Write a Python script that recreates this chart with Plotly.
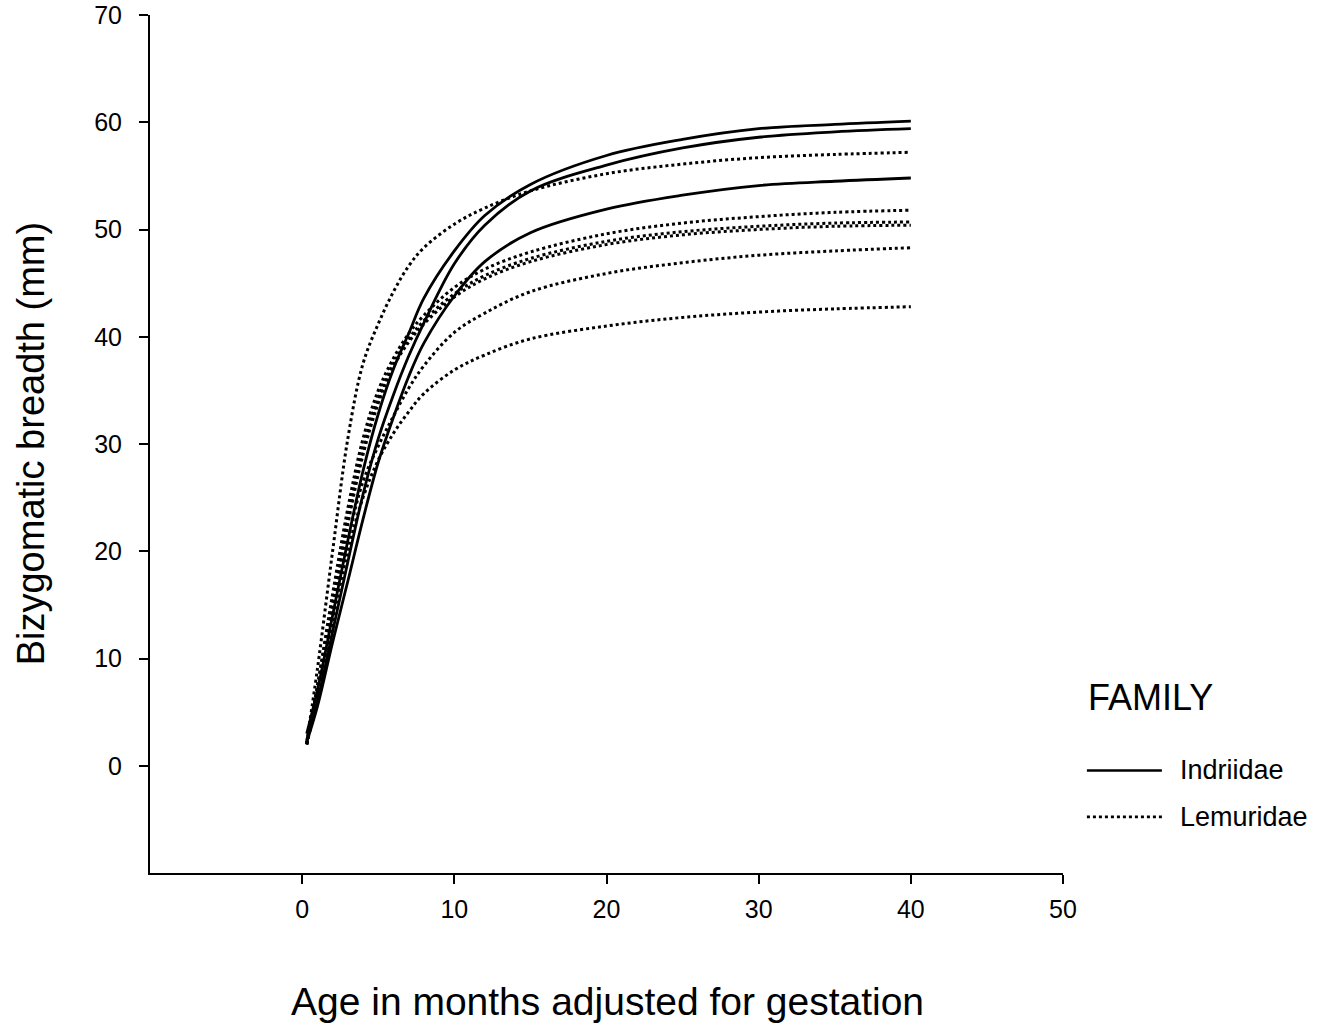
import plotly.graph_objects as go

# Age (months adjusted for gestation) sample points for each fitted curve
ages = [0.3, 1, 2, 3, 4, 5, 6, 7, 8, 10, 12, 15, 20, 25, 30, 35, 40]

# Indriidae (solid)
ind_1 = [3.0, 7.0, 14.0, 21.0, 27.5, 32.8, 37.0, 40.3, 43.6, 48.0, 51.3, 54.2, 56.9, 58.4, 59.4, 59.8, 60.1]
ind_2 = [2.4, 6.0, 12.5, 19.0, 25.3, 30.5, 34.6, 38.2, 41.3, 46.8, 50.4, 53.6, 56.0, 57.6, 58.6, 59.1, 59.4]
ind_3 = [2.2, 5.5, 11.5, 17.2, 23.0, 28.3, 32.5, 36.3, 39.4, 43.8, 47.0, 49.7, 51.9, 53.2, 54.1, 54.5, 54.8]

# Lemuridae (dotted)
lem_1 = [2.2, 9.0, 20.0, 30.5, 37.5, 41.2, 44.2, 46.6, 48.3, 50.5, 52.0, 53.6, 55.2, 56.1, 56.7, 57.0, 57.2]
lem_2 = [2.0, 7.5, 16.0, 24.0, 30.5, 35.0, 38.0, 40.3, 42.0, 44.6, 46.3, 47.9, 49.6, 50.6, 51.2, 51.6, 51.8]
lem_3 = [2.0, 7.0, 15.0, 23.0, 29.5, 34.3, 37.5, 39.8, 41.5, 44.0, 45.7, 47.3, 48.9, 49.8, 50.3, 50.6, 50.7]
lem_4 = [2.0, 7.0, 14.5, 22.5, 29.0, 33.8, 37.2, 39.5, 41.2, 43.7, 45.4, 47.0, 48.6, 49.5, 50.0, 50.3, 50.4]
lem_5 = [2.0, 6.5, 14.0, 21.0, 26.5, 29.8, 32.6, 35.2, 37.3, 40.4, 42.2, 44.2, 45.9, 46.9, 47.6, 48.0, 48.3]
lem_6 = [2.0, 6.5, 13.5, 20.0, 25.0, 28.5, 31.0, 33.0, 34.7, 36.9, 38.3, 39.8, 41.0, 41.8, 42.3, 42.6, 42.8]

x_ticks = [0, 10, 20, 30, 40, 50]
y_ticks = [0, 10, 20, 30, 40, 50, 60, 70]

FONT = "Liberation Sans, Arial, Helvetica, sans-serif"

fig = go.Figure()

for ys in [lem_1, lem_2, lem_3, lem_4, lem_5, lem_6]:
    fig.add_trace(go.Scatter(x=ages, y=ys, mode="lines", showlegend=False,
                             line=dict(color="black", width=3, dash="dot", shape="spline")))
for ys in [ind_1, ind_2, ind_3]:
    fig.add_trace(go.Scatter(x=ages, y=ys, mode="lines", showlegend=False,
                             line=dict(color="black", width=2.8, shape="spline")))

axis_common = dict(showline=True, linecolor="black", linewidth=2, ticks="outside",
                   ticklen=9, tickwidth=2, tickcolor="black", showgrid=False,
                   zeroline=False, automargin=False,
                   tickfont=dict(family=FONT, size=25, color="black"))

fig.update_xaxes(range=[-10, 50], tickvals=x_ticks, ticklabelstandoff=4, **axis_common)
fig.update_yaxes(range=[-10, 70], tickvals=y_ticks, ticklabelstandoff=12, **axis_common)

# custom legend
fig.add_annotation(text="FAMILY", xref="paper", yref="paper", x=1.025, y=0.2048,
                   xanchor="left", yanchor="middle", showarrow=False,
                   font=dict(family=FONT, size=36, color="black"))
fig.add_shape(type="line", xref="paper", yref="paper", x0=1.0262, x1=1.1083, y0=0.1195, y1=0.1195,
              line=dict(color="black", width=2.5))
fig.add_shape(type="line", xref="paper", yref="paper", x0=1.0262, x1=1.1083, y0=0.0654, y1=0.0654,
              line=dict(color="black", width=2.8, dash="dot"))
fig.add_annotation(text="Indriidae", xref="paper", yref="paper", x=1.126, y=0.1195,
                   xanchor="left", yanchor="middle", showarrow=False,
                   font=dict(family=FONT, size=27, color="black"))
fig.add_annotation(text="Lemuridae", xref="paper", yref="paper", x=1.126, y=0.0654,
                   xanchor="left", yanchor="middle", showarrow=False,
                   font=dict(family=FONT, size=27, color="black"))

# axis titles
fig.add_annotation(text="Age in months adjusted for gestation", xref="paper", yref="paper",
                   x=0.501, y=-0.150, xanchor="center", yanchor="middle", showarrow=False,
                   font=dict(family=FONT, size=39, color="black"))
fig.add_annotation(text="Bizygomatic breadth (mm)", xref="paper", yref="paper",
                   x=-0.130, y=0.50, xanchor="center", yanchor="middle", showarrow=False,
                   textangle=-90, font=dict(family=FONT, size=38, color="black"))

fig.update_layout(width=1320, height=1023, margin=dict(l=150, r=257, t=15, b=150),
                  plot_bgcolor="white", paper_bgcolor="white", showlegend=False)

fig.write_html("out.html")
